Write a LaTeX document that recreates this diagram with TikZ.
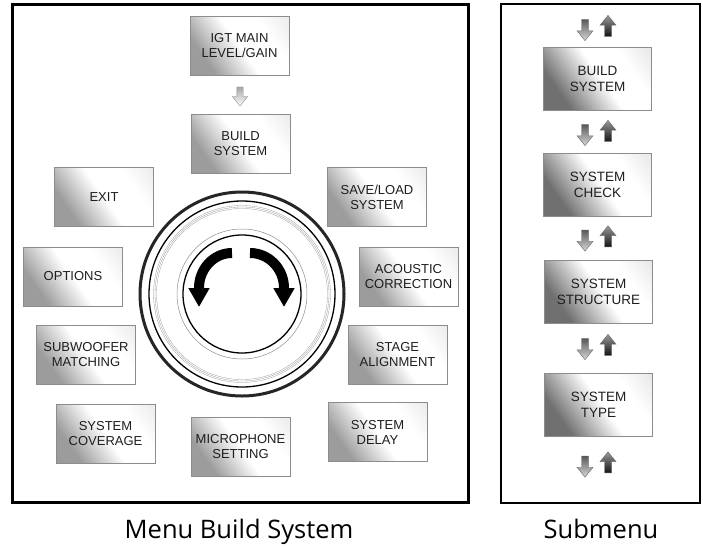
\documentclass[tikz,border=0pt]{standalone}
\usepackage{fontspec}
\setmainfont{Liberation Sans}
\newfontfamily\captionfont{Open Sans}
\usetikzlibrary{arrows.meta,positioning,shapes.arrows}
\definecolor{MenuEdge}{HTML}{8C8C8C}
\definecolor{MenuShade}{HTML}{9C9C9C}
\definecolor{SubShade}{HTML}{707070}
\definecolor{MenuText}{HTML}{1E1E1E}
\pgfdeclarehorizontalshading{menushade}{100bp}{color(0bp)=(MenuShade); color(28bp)=(MenuShade);
  color(50bp)=(white); color(68bp)=(white); color(100bp)=(black!15)}
\pgfdeclarehorizontalshading{subshade}{100bp}{color(0bp)=(SubShade); color(28bp)=(SubShade);
  color(52bp)=(white); color(68bp)=(white); color(100bp)=(black!18)}

\begin{document}
\begin{tikzpicture}[x=1pt,y=1pt,>=Latex,
  menubox/.style={draw=MenuEdge,line width=0.8pt,shade,shading=menushade,shading angle=35,
    minimum width=99pt,minimum height=59pt,align=center,text=MenuText,inner sep=1pt,
    font=\fontsize{13}{15}\selectfont},
  subbox/.style={menubox,shading=subshade,
    minimum width=108pt,minimum height=63pt,font=\fontsize{13.5}{16}\selectfont},
  blockarrow/.style={single arrow,draw=black!60,line width=0.4pt,inner sep=3.3pt,
    minimum height=21pt,single arrow head extend=4.5pt,single arrow tip angle=78},
  downarrow/.style={blockarrow,rotate=-90,top color=black!65,bottom color=black!15},
  uparrow/.style={blockarrow,rotate=90,top color=black!40,bottom color=black!92},
  caption/.style={font=\captionfont\fontsize{25.5}{30}\selectfont,anchor=base}]
  \useasboundingbox (0,0) rectangle (703,-546);

  % frames
  \draw[line width=3pt] (12,-4) rectangle (468,-502);
  \draw[line width=2.6pt] (501,-4) rectangle (700,-503);

  % main menu
  \node[menubox] (igt) at (239.5,-45.5) {IGT MAIN\\LEVEL/GAIN};
  \node[menubox] (build) at (240.5,-143.5) {BUILD\\SYSTEM};
  \node[downarrow,draw=black!45,top color=black!35,bottom color=white,minimum height=19pt,inner sep=3pt] (igtdown) at (240,-94.5) {};
  \node[menubox] (exit) at (104,-197) {EXIT};
  \node[menubox] (saveload) at (377,-197) {SAVE/LOAD\\SYSTEM};
  \node[menubox] (options) at (73,-276.5) {OPTIONS};
  \node[menubox] (acoustic) at (408.5,-276.5) {ACOUSTIC\\CORRECTION};
  \node[menubox] (subwoofer) at (86,-354.5) {SUBWOOFER\\MATCHING};
  \node[menubox] (stage) at (397.5,-354.5) {STAGE\\ALIGNMENT};
  \node[menubox] (coverage) at (105.5,-433.5) {SYSTEM\\COVERAGE};
  \node[menubox] (delay) at (377.5,-432) {SYSTEM\\DELAY};
  \node[menubox] (micro) at (240.5,-446.5) {MICROPHONE\\SETTING};

  % rotary knob
  \coordinate (knob) at (242,-294);
  \draw[line width=3pt,black!85] (knob) circle[radius=102];
  \draw[line width=1.3pt] (knob) circle[radius=93];
  \foreach \r in {85.5,87,88.5}
    \draw[black!40,line width=0.3pt] (knob) circle[radius=\r];
  \draw[black!45,line width=0.5pt] (knob) circle[radius=65];
  \draw[line width=1.3pt] (knob) circle[radius=59];
  \draw[line width=10pt,-{Triangle[width=20pt,length=19pt]}]
    ([shift={(-10,41)}]knob) arc[start angle=90,end angle=180,x radius=33,y radius=35] -- ++(0,-19);
  \draw[line width=10pt,-{Triangle[width=20pt,length=19pt]}]
    ([shift={(8,41)}]knob) arc[start angle=90,end angle=0,x radius=34,y radius=35] -- ++(0,-19);

  % submenu
  \node[subbox] (subbuild) at (597.5,-78.5) {BUILD\\SYSTEM};
  \node[subbox] (check) at (597.5,-185) {SYSTEM\\CHECK};
  \node[subbox] (structure) at (598.5,-292) {SYSTEM\\STRUCTURE};
  \node[subbox] (type) at (598.5,-405) {SYSTEM\\TYPE};
  \foreach \y [count=\i] in {28,133,238.5,347,464.5} {
    \node[downarrow] (down\i) at (585,-\y) {};
    \node[uparrow] (up\i) at (608,-\y) {};
  }

  \node[caption] (maincap) at (239,-538) {Menu Build System};
  \node[caption] (subcap) at (601,-538) {Submenu};
\end{tikzpicture}
\end{document}
